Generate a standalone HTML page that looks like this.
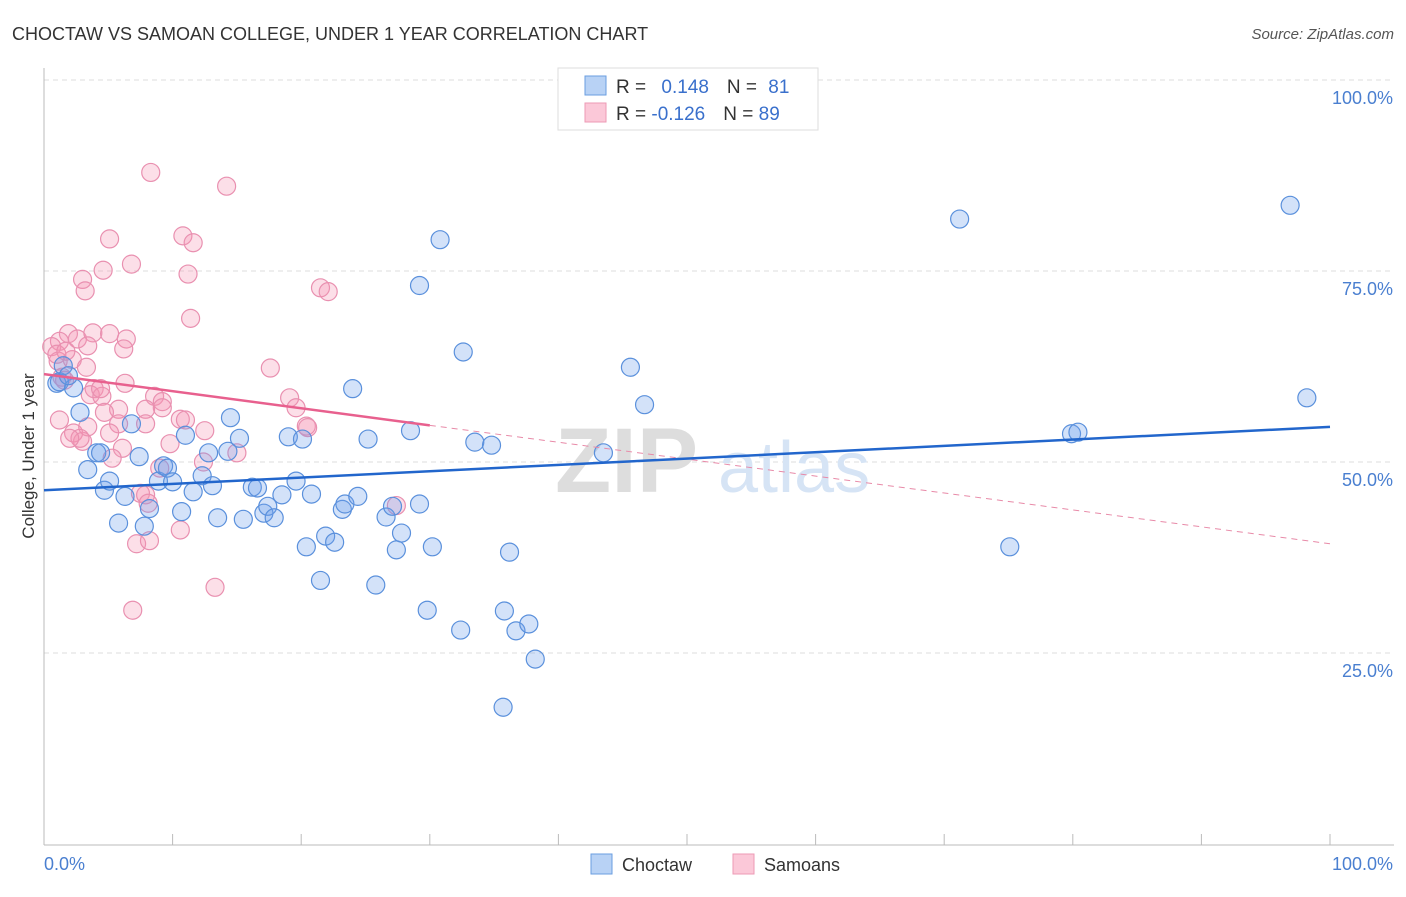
<!DOCTYPE html>
<html><head><meta charset="utf-8"><style>
body{margin:0;background:#fff;font-family:"Liberation Sans",sans-serif}
svg text{font-family:"Liberation Sans",sans-serif}
</style></head><body>
<svg id="chart" width="1406" height="892">
<text x="12" y="40" font-size="18" fill="#333">CHOCTAW VS SAMOAN COLLEGE, UNDER 1 YEAR CORRELATION CHART</text>
<text x="1394" y="39" font-size="15" fill="#555" font-style="italic" text-anchor="end">Source: ZipAtlas.com</text>
<g id="grid"></g>
<text x="555" y="492" font-size="92" fill="#ddd" font-weight="bold">ZIP</text>
<text x="718" y="492" font-size="72" fill="#d6e4f5">atlas</text>
<g id="marks"></g>
<text transform="translate(34,456) rotate(-90)" font-size="17" fill="#333" text-anchor="middle">College, Under 1 year</text>
<text x="44" y="870" font-size="18" fill="#4a7fd0">0.0%</text>
<text x="1393" y="870" font-size="18" fill="#4a7fd0" text-anchor="end">100.0%</text>
<g>
<rect x="558" y="68" width="260" height="62" fill="#fff" stroke="#ddd"/>
<rect x="585" y="76" width="21" height="19" fill="#b8d2f5" stroke="#6a9ee0"/>
<rect x="585" y="103" width="21" height="19" fill="#fbc8d8" stroke="#ec9ab5"/>
<text x="616" y="93" font-size="19" fill="#333">R = <tspan fill="#3a70cc" dx="10">0.148</tspan><tspan dx="18">N = </tspan><tspan fill="#3a70cc" dx="6">81</tspan></text>
<text x="616" y="120" font-size="19" fill="#333">R = <tspan fill="#3a70cc">-0.126</tspan><tspan dx="18">N = </tspan><tspan fill="#3a70cc">89</tspan></text>
</g>
<g>
<rect x="591" y="854" width="21" height="20" fill="#b8d2f5" stroke="#6a9ee0"/>
<text x="622" y="871" font-size="18" fill="#333">Choctaw</text>
<rect x="733" y="854" width="21" height="20" fill="#fbc8d8" stroke="#ec9ab5"/>
<text x="764" y="871" font-size="18" fill="#333">Samoans</text>
</g>
</svg>
<script>
const yTicks=[25,50,75,100];
const yTickLabels=["25.0%","50.0%","75.0%","100.0%"];
const xTicks=[0,10,20,30,40,50,60,70,80,90,100];
const choctawX=[1.0,1.2,2.3,2.8,3.4,4.1,4.4,4.7,5.1,5.8,6.3,6.8,7.4,7.8,8.2,8.9,9.3,9.6,10.0,10.7,11.0,11.6,12.3,12.8,13.1,13.5,14.3,14.5,15.2,15.5,16.2,16.6,17.1,17.4,17.9,18.5,19.0,19.6,20.1,20.4,20.8,21.5,21.9,22.6,23.2,23.4,24.0,24.4,25.2,25.8,26.6,27.1,27.4,27.8,28.5,29.2,29.2,29.8,30.2,30.8,32.4,32.6,33.5,34.8,35.7,35.8,36.2,36.7,37.7,38.2,43.5,45.6,46.7,71.2,75.1,79.9,80.4,96.9,98.2,1.5,1.9];
const choctawY=[60.3,60.5,59.7,56.5,49.0,51.2,51.2,46.3,47.5,42.0,45.5,55.0,50.7,41.6,43.9,47.5,49.5,49.2,47.4,43.5,53.5,46.1,48.2,51.2,46.9,42.7,51.4,55.8,53.1,42.5,46.7,46.6,43.3,44.2,42.7,45.7,53.3,47.5,53.0,38.9,45.8,34.5,40.3,39.5,43.8,44.5,59.6,45.5,53.0,33.9,42.8,44.2,38.5,40.7,54.1,44.5,73.1,30.6,38.9,79.1,28.0,64.4,52.6,52.2,17.9,30.5,38.2,27.9,28.8,24.2,51.2,62.4,57.5,81.8,38.9,53.7,53.9,83.6,58.4,62.6,61.3];
const samoansX=[8.3,14.2,5.1,10.8,11.6,6.8,4.6,11.2,3.0,3.2,21.5,22.1,11.4,1.9,2.6,3.8,5.1,6.4,3.4,1.2,0.6,6.2,1.1,2.2,3.3,1.4,17.6,3.9,3.6,4.5,6.3,8.6,9.2,4.4,9.2,5.8,7.9,10.6,19.1,19.6,20.4,20.5,12.5,4.7,1.2,2.3,3.0,5.8,3.4,5.1,11.0,7.9,2.8,6.1,2.0,15.0,9.8,5.3,9.0,12.4,7.5,7.9,8.1,7.2,8.2,10.6,6.9,13.3,27.4,1.6,1.0,1.7];
const samoansY=[87.9,86.1,79.2,79.6,78.7,75.9,75.1,74.6,73.9,72.4,72.8,72.3,68.8,66.8,66.1,66.9,66.8,66.1,65.2,65.8,65.1,64.8,63.2,63.4,62.4,61.1,62.3,59.6,58.8,58.6,60.3,58.6,57.9,59.6,57.1,56.9,56.9,55.6,58.4,57.1,54.7,54.5,54.1,56.5,55.5,53.8,52.7,55.0,54.6,53.8,55.5,55.0,53.1,51.8,53.1,51.2,52.4,50.5,49.2,50.0,45.9,45.7,44.6,39.3,39.7,41.1,30.6,33.6,44.3,60.7,64.1,64.5];
const choctawTrend=[[0,46.3],[100,54.6]];
const samoansTrendSolid=[[0,61.5],[30,54.8]];
const samoansTrendDash=[[30,54.8],[100,39.3]];
const X0=44,X1=1330,Y0=844,Y100=80;
const sx=v=>X0+(X1-X0)*v/100, sy=v=>Y0-(Y0-Y100)*v/100;
const NS="http://www.w3.org/2000/svg";
const grid=document.getElementById('grid'), marks=document.getElementById('marks');
function mk(tag,attrs,parent){const e=document.createElementNS(NS,tag);for(const k in attrs)e.setAttribute(k,attrs[k]);parent.appendChild(e);return e;}
yTicks.forEach((t,i)=>{
  const l=mk('line',{x1:X0,x2:1394,y1:sy(t),y2:sy(t),stroke:'#ddd','stroke-dasharray':'5,4'},grid);
  
  
  const tx=mk('text',{x:1393,y:sy(t)+24,'font-size':18,fill:'#4a7fd0','text-anchor':'end'},grid);
  tx.textContent=yTickLabels[i];
  
  
});
const ax=mk('line',{x1:X0,x2:X0,y1:68,y2:Y0+1,stroke:'#bbb'},grid);


const bx=mk('line',{x1:X0,x2:1394,y1:Y0+1,y2:Y0+1,stroke:'#bbb'},grid);


xTicks.forEach(t=>{
  const l=mk('line',{x1:sx(t),x2:sx(t),y1:Y0-10,y2:Y0+1,stroke:'#bbb'},grid);
  
  
});
function dots(xs,ys,fill,stroke,name){
  xs.forEach((x,i)=>{
    const c=mk('circle',{cx:sx(x),cy:sy(ys[i]),r:9,fill:fill,stroke:stroke,'stroke-width':1.2},marks);
    
    
  });
}
dots(samoansX,samoansY,'rgba(244,150,180,0.3)','#e990b0','samoans-point');
dots(choctawX,choctawY,'rgba(110,160,235,0.3)','#5a90dc','choctaw-point');
function line(p,stroke,w,dash,name){
  const l=mk('line',{x1:sx(p[0][0]),y1:sy(p[0][1]),x2:sx(p[1][0]),y2:sy(p[1][1]),stroke:stroke,'stroke-width':w},marks);
  if(dash)l.setAttribute('stroke-dasharray',dash);
  
  
}
line(samoansTrendDash,'#e88aa8',1,'6,5','samoans-trend-extension');
line(samoansTrendSolid,'#e8608e',2.5,null,'samoans-trend-line');
line(choctawTrend,'#2266cc',2.5,null,'choctaw-trend-line');
</script>
</body></html>
